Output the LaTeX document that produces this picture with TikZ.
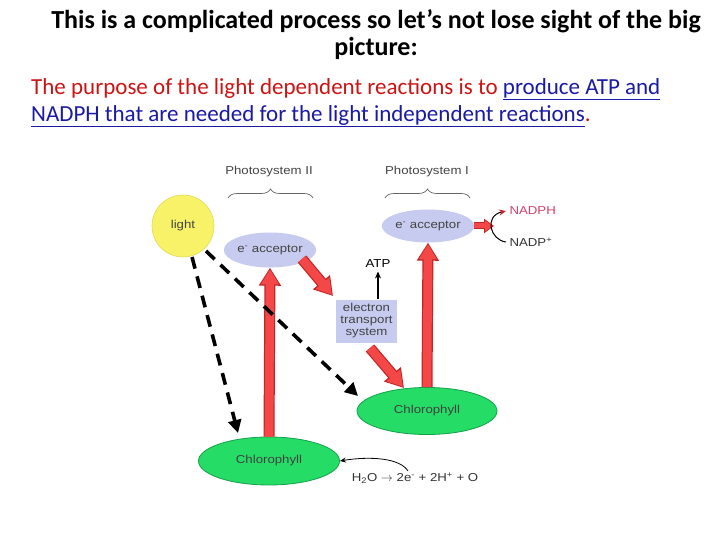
\documentclass[tikz,border=0pt]{standalone}
\usepackage{fontspec}
\setmainfont{Carlito}
\newfontfamily\diag[FakeStretch=1.15]{Liberation Sans}
\usetikzlibrary{arrows.meta,shapes.geometric,decorations.pathreplacing,calc}
\definecolor{sunyel}{HTML}{F7F268}
\definecolor{sunedge}{HTML}{E2DA50}
\definecolor{lav}{HTML}{C7CBEF}
\definecolor{grn}{HTML}{25DD66}
\definecolor{grnedge}{HTML}{14A048}
\definecolor{arred}{HTML}{F44848}
\definecolor{arredge}{HTML}{C42424}
\definecolor{ttlred}{HTML}{CC1414}
\definecolor{ttlblue}{HTML}{1A1AA6}
\definecolor{nadcol}{HTML}{D0406A}
\definecolor{lblgray}{HTML}{444444}
\tikzset{
  dfont/.style={font=\diag\fontsize{11.5}{13}\selectfont},
  lbl/.style={dfont, text=lblgray},
  accbox/.style={ellipse, fill=lav, draw=none, dfont, text=lblgray, inner sep=0pt},
  chlbox/.style={ellipse, fill=grn, draw=grnedge, line width=0.8pt, dfont, text=black!75, inner sep=0pt},
  darr/.style={line width=3.6pt, dash pattern=on 12pt off 8pt, -{Triangle[width=13pt,length=13pt]}},
  bigout/.style={line width=11pt, draw=arredge, -{Triangle[width=21pt,length=18pt]}},
  bigin/.style={line width=8.6pt, draw=arred, shorten >=1.6pt, -{Triangle[width=17pt,length=15pt]}},
  brc/.style={decorate, decoration={brace, amplitude=9pt}, draw=black!60, line width=0.7pt}
}
\begin{document}
\begin{tikzpicture}[x=1pt,y=-1pt]
\useasboundingbox[fill=white] (0,0) rectangle (720,540);
% title
\node[align=center, inner sep=0pt, font=\bfseries\fontsize{26}{27}\selectfont] (title) at (376,35)
  {This is a complicated process so let’s not lose sight of the big\\picture:};
\node[anchor=west, inner sep=0pt, font=\fontsize{23}{24}\selectfont] (p1) at (31,89)
  {\textcolor{ttlred}{The purpose of the light dependent reactions is to }\textcolor{ttlblue}{\underline{produce ATP and}}};
\node[anchor=west, inner sep=0pt, font=\fontsize{23}{24}\selectfont] (p2) at (31,116)
  {\textcolor{ttlblue}{\underline{NADPH that are needed for the light independent reactions}}\textcolor{ttlred}{.}};
% labels
\node[lbl] (ps2) at (269,172) {Photosystem II};
\node[lbl] (ps1) at (427,172) {Photosystem I};
\draw[brc] (228,198) -- (313,198);
\draw[brc] (385,198) -- (470,198);
% nodes
\node[circle, fill=sunyel, draw=sunedge, line width=0.6pt, minimum size=62pt, inner sep=0pt, dfont, text=lblgray] (light) at (183,226) {light};
\node[accbox, minimum width=90pt, minimum height=35pt] (acc2) at (270,250) {e\textsuperscript{-} acceptor};
\node[accbox, minimum width=89pt, minimum height=33pt] (acc1) at (428,226) {e\textsuperscript{-} acceptor};
\node[rectangle, fill=lav, minimum width=61pt, minimum height=43pt, align=center, inner sep=1pt, font=\diag\fontsize{11.5}{12}\selectfont, text=lblgray] (ets) at (366.5,321) {electron\\transport\\system};
\node[lbl, text=black] (atp) at (378,264) {ATP};
\node[chlbox, minimum width=140pt, minimum height=47pt] (chl1) at (427,411) {Chlorophyll};
\node[chlbox, minimum width=141pt, minimum height=48pt] (chl2) at (269,461) {Chlorophyll};
\node[lbl, text=nadcol, anchor=west] (nadph) at (506,211) {NADPH};
\node[lbl, text=black!80, anchor=west] (nadp) at (506,242) {NADP\textsuperscript{+}};
\node[lbl, text=black!80] (h2o) at (415,478) {H\textsubscript{2}O $\rightarrow$ 2e\textsuperscript{-} + 2H\textsuperscript{+} + O};
% red block arrows
\draw[bigout] (chl2.north) -- (acc2.south);
\draw[bigin] (chl2.north) -- (acc2.south);
\draw[bigout] (chl1.north) -- (acc1.south);
\draw[bigin] (chl1.north) -- (acc1.south);
\coordinate (d1s) at (302,259);
\coordinate (d1e) at (333,296);
\draw[bigout] (d1s) -- (d1e);
\draw[bigin] (d1s) -- (d1e);
\coordinate (d2s) at (370,348);
\coordinate (d2e) at (404,388);
\draw[bigout] (d2s) -- (d2e);
\draw[bigin] (d2s) -- (d2e);
\coordinate (n1e) at (494,226);
\draw[line width=7pt, draw=arredge, -{Triangle[width=14pt,length=10pt]}] (acc1.east) -- (n1e);
\draw[line width=5pt, draw=arred, shorten >=1.2pt, -{Triangle[width=11pt,length=8pt]}] (acc1.east) -- (n1e);
% dashed arrows
\coordinate (l1) at (192,257);
\coordinate (l2) at (206,251);
\draw[darr] (l1) -- (238,433);
\draw[darr] (l2) -- (358,396);
% ATP arrow
\draw[line width=1.6pt, -{Stealth[length=7pt,width=6pt]}] (atp.south |- ets.north) -- (atp.south);
% NADP curve
\draw[line width=1pt, -{Stealth[length=7pt,width=6pt,color=arredge]}] (nadp.west) .. controls (490,240) and (484,216) .. (nadph.west);
% H2O curve
\coordinate (hs) at (408,471);
\draw[line width=0.8pt, -{Stealth[length=6pt,width=5pt]}] (hs) .. controls (400,458) and (370,456) .. (chl2.east);
\end{tikzpicture}
\end{document}
